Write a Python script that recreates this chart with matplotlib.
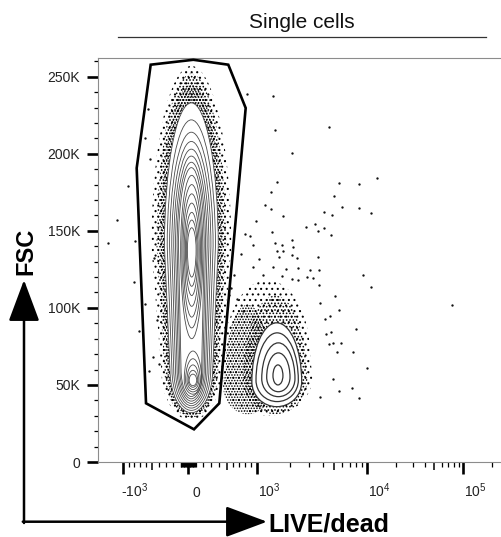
import numpy as np
import matplotlib
matplotlib.use("Agg")
import matplotlib.pyplot as plt
from matplotlib.path import Path
from matplotlib.patches import PathPatch, Polygon, FancyArrowPatch, ArrowStyle
from matplotlib.lines import Line2D
from matplotlib.transforms import Affine2D, ScaledTranslation

plt.rcParams['font.family'] = ['Liberation Sans', 'DejaVu Sans']
plt.rcParams['mathtext.fontset'] = 'custom'
plt.rcParams['mathtext.rm'] = 'Liberation Sans'
plt.rcParams['mathtext.it'] = 'Liberation Sans:italic'
plt.rcParams['mathtext.bf'] = 'Liberation Sans:bold'
plt.rcParams['hatch.linewidth'] = 0.75

# x axis is in display channels (0..1024) of a biexponential LIVE/dead scale
# anchors: symlog-like value h  ->  channel
bx_h = [-1.301, -1, -0.5, 0, 0.5, 1, 2, 3, 3.4185]
bx_chan = [0, 62.5, 135.8, 227.6, 325.4, 401.3, 679.4, 922.9, 1024]

# y axis: FSC in thousands
# live gate vertices (channel, FSC K)
gate_x = [133.2, 241.0, 329.4, 373.4, 306.7, 242.7, 121.4, 97.8]
gate_y = [257.8, 261.0, 257.8, 229.7, 38.1, 21.2, 38.1, 190.7]

# live population contours, outer group (both peaks)
p1o_top = [233, 222, 214, 208, 203, 198.5, 194.5, 191]
p1o_hw = [68, 61, 55, 49.5, 44.5, 40, 36, 32.5]
p1o_hw2 = [54, 49, 44.5, 40, 36, 32.5, 29, 26]
p1o_bot = [32, 33.5, 35, 36.5, 38, 39.5, 41, 42.5]
# upper peak contours
p1u_top = [186, 180, 174, 168, 162, 157, 152]
p1u_bot = [80, 87, 94, 101, 108, 114, 120]
p1u_hw = [28, 25, 22, 19, 16, 13.5, 11]
# lower peak contours
p1l_top = [72, 67, 63, 59.5, 57]
p1l_bot = [44, 45.5, 47, 48.5, 49.5]
p1l_hw = [22, 18.5, 15, 12, 9.5]

# dead population contours
p2_cx = [452, 453, 456, 456, 455]
p2_hw = [63, 53.5, 42, 29.5, 12.6]
p2_top = [90.3, 83.8, 77.3, 70.8, 63]
p2_mid = [52, 53, 54, 55, 56]
p2_bot = [35.9, 39.2, 42.4, 45.6, 50]

# dense dot clouds: cx, hw, top, ymid, ylow, hw2, bottom, hatch, clipped to gate
halo_cx = [236, 236, 236, 428, 378, 448]
halo_hw = [101, 88, 78, 108, 55, 80]
halo_top = [257, 252, 245, 118, 102, 108]
halo_mid = [140, 140, 140, 70, 60, 55]
halo_low = [60, 60, 60, 55, 50, 55]
halo_hw2 = [76, 68, 61, 114, 62, 82]
halo_bot = [27, 29, 30, 30, 31, 31]
halo_hatch = ['...', '.....', '......', '...', '......', '.....']
halo_clip = [True, True, True, False, False, False]

# scattered single events
out_x = [490, 705, 661, 609, 453, 437, 597, 616, 661, 689, 572, 592, 422, 437, 469, 400,
         549, 525, 572, 557, 441, 588, 372, 384, 490, 448, 465, 393, 492, 452, 469, 362,
         557, 490, 502, 408, 458, 393, 443, 475, 505, 536, 560, 669, 418, 466, 490, 506,
         529, 689, 559, 544, 609, 587, 652, 588, 577, 614, 595, 585, 646, 679, 604, 593,
         642, 609, 661, 561, 894, 47, 77, 25, 94, 442, 376, 448, 584, 92, 104, 140, 155,
         120, 132, 118, 128, 141, 150, 126, 337, 352, 366, 330, 345, 561, 575, 598]
out_y = [200.5, 184.2, 180.3, 181.0, 182.0, 174.9, 172.9, 165.4, 164.5, 161.5, 162.5, 160.4,
         166.9, 164.1, 159.3, 156.5, 154.4, 152.4, 152.1, 150.2, 149.4, 147.2, 148.1, 146.8,
         144.2, 142.0, 140.9, 140.9, 139.8, 137.0, 137.0, 135.1, 133.3, 134.4, 132.3, 132.0,
         133.3, 126.8, 126.8, 125.1, 125.8, 124.7, 124.7, 121.4, 121.4, 120.8, 118.6, 118.2,
         120.3, 113.4, 114.9, 119.3, 98.7, 95.0, 86.4, 84.6, 83.1, 77.5, 77.1, 76.4, 71.2,
         60.8, 71.6, 53.7, 48.2, 46.3, 41.4, 42.4, 101.9, 157.1, 178.8, 142.4, 143.1, 237.2,
         238.8, 215.6, 217.5, 117.1, 85.3, 68.4, 63.4,
         210.3, 196.8, 102.5, 58.9, 132.4, 92.0, 229.1, 113.0, 105.7, 97.9, 108.4, 121.6,
         103.2, 92.5, 107.8]

xt_vals = [-1000, 0, 1000, 10000, 100000]
xt_labels = ['-$10^{3}$', '0', '$10^{3}$', '$10^{4}$', '$10^{5}$']
yt_vals = [0, 50, 100, 150, 200, 250]
yt_labels = ['0', '50K', '100K', '150K', '200K', '250K']


def to_chan(v):
    v = np.asarray(v, dtype=float)
    a = np.abs(v)
    h = np.where(a <= 1000, v / 1000, np.sign(v) * (1 + np.log10(np.maximum(a, 1000) / 1000)))
    return np.interp(h, bx_h, bx_chan)


def egg(cx, hw, top, ymid, ylow, hw2, bottom):
    up = Affine2D().scale(hw, top - ymid).translate(cx, ymid).transform_path(Path.arc(0, 180))
    lo = Affine2D().scale(hw2, ylow - bottom).translate(cx, ylow).transform_path(Path.arc(180, 360))
    verts = np.vstack([up.vertices, lo.vertices, up.vertices[:1]])
    codes = np.concatenate([up.codes, [Path.LINETO], lo.codes[1:], [Path.CLOSEPOLY]])
    return Path(verts, codes)


fig = plt.figure(figsize=(5.01, 5.37), dpi=100)
ax = fig.add_axes([98 / 501, 75 / 537, 405 / 501, 404 / 537])
ax.set_xlim(0, 1024)
ax.set_ylim(0, 262.144)

gate = Polygon(np.column_stack([gate_x, gate_y]), closed=True, fill=False, ec='k',
               lw=1.9, joinstyle='miter', zorder=6)
ax.add_patch(gate)

for i in range(len(halo_cx)):
    pp = PathPatch(egg(halo_cx[i], halo_hw[i], halo_top[i], halo_mid[i], halo_low[i],
                       halo_hw2[i], halo_bot[i]),
                   fc='none', ec='k', lw=0, hatch=halo_hatch[i], zorder=1)
    ax.add_patch(pp)
    if halo_clip[i]:
        pp.set_clip_path(gate)

ax.plot(out_x, out_y, ls='none', marker='o', ms=1.7, mew=0, color='#111111', zorder=1.5)

# white interiors of the outer contours
ax.add_patch(PathPatch(egg(236, p1o_hw[0], p1o_top[0], 140, 60, p1o_hw2[0], p1o_bot[0]),
                       fc='white', ec='none', zorder=2))
ax.add_patch(PathPatch(egg(p2_cx[0], p2_hw[0], p2_top[0], p2_mid[0], p2_mid[0], p2_hw[0], p2_bot[0]),
                       fc='white', ec='none', zorder=2))

c1 = '#4a4a4a'
for i in range(len(p1o_top)):
    ax.add_patch(PathPatch(egg(236, p1o_hw[i], p1o_top[i], 140, 60, p1o_hw2[i], p1o_bot[i]),
                           fill=False, ec=c1, lw=0.6, zorder=3))
for i in range(len(p1u_top)):
    ax.add_patch(PathPatch(egg(237, p1u_hw[i], p1u_top[i], 138, 138, p1u_hw[i], p1u_bot[i]),
                           fill=False, ec=c1, lw=0.6, zorder=3))
for i in range(len(p1l_top)):
    ax.add_patch(PathPatch(egg(240, p1l_hw[i], p1l_top[i], 53, 53, p1l_hw[i], p1l_bot[i]),
                           fill=False, ec=c1, lw=0.6, zorder=3))
for i in range(len(p2_cx)):
    ax.add_patch(PathPatch(egg(p2_cx[i], p2_hw[i], p2_top[i], p2_mid[i], p2_mid[i], p2_hw[i], p2_bot[i]),
                           fill=False, ec='#333333', lw=0.9, zorder=3))

# spines
for s in ['left', 'bottom', 'top']:
    ax.spines[s].set_color('#8c8c8c')
    ax.spines[s].set_linewidth(0.8)
ax.spines['right'].set_visible(False)

# y ticks
ax.set_yticks(yt_vals)
ax.set_yticklabels(yt_labels)
ax.set_yticks([v for v in range(10, 270, 10) if v % 50], minor=True)
ax.tick_params(axis='y', which='major', length=7.9, width=1.9, color='k', pad=5,
               labelsize=10, labelcolor='#222222')
ax.tick_params(axis='y', which='minor', length=3.2, width=0.9, color='k')

# x ticks (biexponential)
minor_vals = ([-900, -800, -700, -600, -400, -300, -200, -100]
              + [v for v in range(-90, 100, 10) if v != 0]
              + [100, 200, 300, 400, 600, 700, 800, 900]
              + [2000, 3000, 4000, 6000, 7000, 8000, 9000]
              + [20000, 30000, 40000, 60000, 70000, 80000, 90000, 200000])
medium_vals = [-500, 500, 5000, 50000]
ax.set_xticks(to_chan(xt_vals))
ax.set_xticks(to_chan(minor_vals), minor=True)
ax.tick_params(axis='x', which='major', length=8.6, width=1.9, color='k', labelbottom=False)
ax.tick_params(axis='x', which='minor', length=3.6, width=0.9, color='k')
ax.plot(to_chan(medium_vals), np.zeros(len(medium_vals)), ls='none', marker=3, ms=5.8,
        mew=1.1, color='k', transform=ax.get_xaxis_transform(), clip_on=False)

xt_dx = [-1.7, 4.8, 0.8, 1.3, 0.5]
for v, lab, dx in zip(xt_vals, xt_labels, xt_dx):
    tr = ax.get_xaxis_transform() + ScaledTranslation(dx / 100, -35 / 100, fig.dpi_scale_trans)
    ax.text(float(to_chan(v)), 0, lab, transform=tr, ha='left', va='baseline',
            fontsize=10, color='#222222')

# header
fig.text(301.5 / 501, 1 - 27.5 / 537, 'Single cells', ha='center', va='baseline',
         fontsize=15, color='#111111')
fig.add_artist(Line2D([118 / 501, 486 / 501], [1 - 36.7 / 537] * 2, color='#333333', lw=0.9))

# axis arrows
style = ArrowStyle('-|>', head_length=26, head_width=9.7)
corner = (24 / 501, 1 - 521.7 / 537)
fig.add_artist(FancyArrowPatch((24 / 501, 1 - 523 / 537), (24 / 501, 1 - 280 / 537),
                               transform=fig.transFigure, arrowstyle=style, mutation_scale=1,
                               lw=1.8, color='k', shrinkA=0, shrinkB=0))
fig.add_artist(FancyArrowPatch((22.8 / 501, corner[1]), (267 / 501, corner[1]),
                               transform=fig.transFigure, arrowstyle=style, mutation_scale=1,
                               lw=1.8, color='k', shrinkA=0, shrinkB=0))
fig.text(268 / 501, 1 - 532 / 537, 'LIVE/dead', ha='left', va='baseline', fontsize=18,
         fontweight='bold', color='k')
fig.text(25.5 / 501, 1 - 251.5 / 537, 'FSC', ha='center', va='center', rotation=90,
         fontsize=17, fontweight='bold', color='k')

fig.savefig('out.png', dpi=100)
